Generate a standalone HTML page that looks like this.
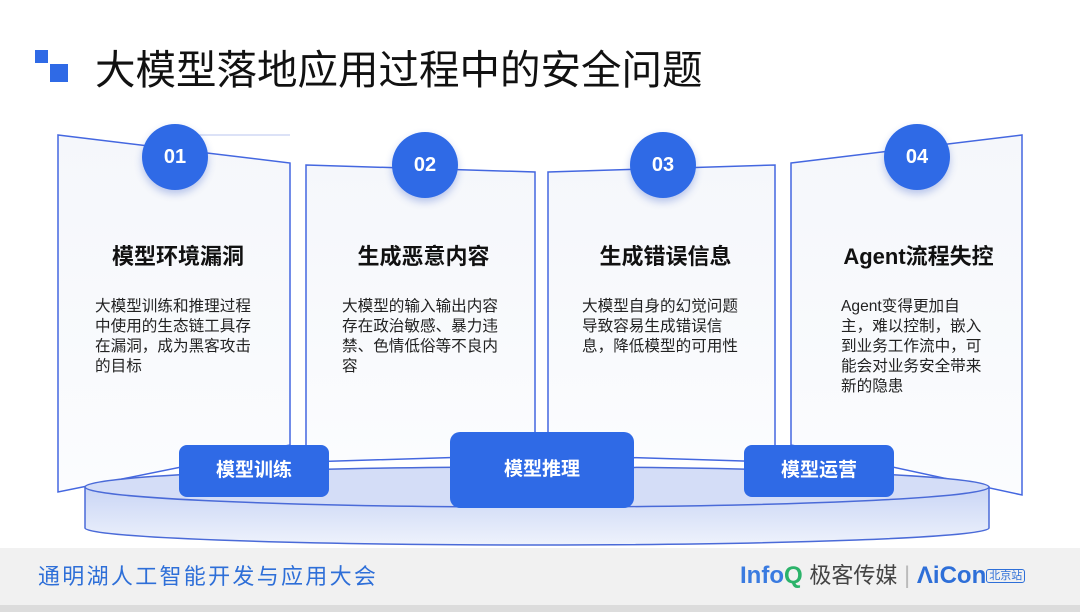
<!DOCTYPE html>
<html><head><meta charset="utf-8"><style>
body{margin:0;width:1080px;height:612px;overflow:hidden;background:#fff;font-family:"Liberation Sans","Noto Sans CJK SC",sans-serif;position:relative}
.a{position:absolute}
.t{position:absolute;font-weight:bold;font-size:22px;color:#111;text-align:center}
.d{position:absolute;font-size:15.6px;line-height:20px;color:#222}
.c{position:absolute;width:66px;height:66px;border-radius:50%;background:#2f6ae6;color:#fff;font-weight:bold;font-size:20px;text-align:center;line-height:66px;box-shadow:0 4px 8px rgba(40,80,200,.3)}
.b{position:absolute;background:#2f6ae6;color:#fff;font-weight:bold;font-size:19px;text-align:center;border-radius:8px}
</style></head><body>
<div class="a" style="left:35px;top:50px;width:13px;height:13px;background:#2f6ae6"></div>
<div class="a" style="left:50px;top:64px;width:18px;height:18px;background:#2f6ae6"></div>
<div class="a" style="left:95px;top:45px;font-size:40.5px;color:#111;line-height:50px;white-space:nowrap">大模型落地应用过程中的安全问题</div>
<svg class="a" style="left:0;top:0" width="1080" height="612">
<defs><linearGradient id="g" x1="0" y1="0" x2="0" y2="1"><stop offset="0" stop-color="#f5f7fb"/><stop offset="1" stop-color="#fbfcfe"/></linearGradient>
<linearGradient id="p" x1="0" y1="0" x2="0" y2="1"><stop offset="0" stop-color="#c9d5f5"/><stop offset="1" stop-color="#eef2fc"/></linearGradient></defs>
<line x1="175" y1="135" x2="290" y2="135" stroke="#b8c6ef" stroke-width="1"/>
<polygon points="58,135 290,163 290,445 58,492" fill="url(#g)" stroke="#4467e0" stroke-width="1.5"/>
<polygon points="306,165 535,172 535,455 306,462" fill="url(#g)" stroke="#4467e0" stroke-width="1.5"/>
<polygon points="548,172 775,165 775,462 548,455" fill="url(#g)" stroke="#4467e0" stroke-width="1.5"/>
<polygon points="791,163 1022,135 1022,495 791,445" fill="url(#g)" stroke="#4467e0" stroke-width="1.5"/>
<path d="M85,487 L85,528 A452,17 0 0 0 989,528 L989,487 Z" fill="url(#p)" stroke="#4a6ad8" stroke-width="1.5"/>
<ellipse cx="537" cy="487" rx="452" ry="20" fill="#d4ddf7" stroke="#4a6ad8" stroke-width="1.5"/>
</svg>
<div class="c" style="left:142px;top:124px">01</div>
<div class="c" style="left:392px;top:132px">02</div>
<div class="c" style="left:630px;top:132px">03</div>
<div class="c" style="left:884px;top:124px">04</div>
<div class="t" style="left:58px;width:240px;top:239px">模型环境漏洞</div>
<div class="t" style="left:306px;width:235px;top:239px">生成恶意内容</div>
<div class="t" style="left:548px;width:235px;top:239px">生成错误信息</div>
<div class="t" style="left:791px;width:255px;top:239px">Agent流程失控</div>
<div class="d" style="left:95px;top:297px;width:162px">大模型训练和推理过程中使用的生态链工具存在漏洞，成为黑客攻击的目标</div>
<div class="d" style="left:342px;top:297px;width:162px">大模型的输入输出内容存在政治敏感、暴力违禁、色情低俗等不良内容</div>
<div class="d" style="left:582px;top:297px;width:162px">大模型自身的幻觉问题导致容易生成错误信息，降低模型的可用性</div>
<div class="d" style="left:841px;top:297px;width:146px">Agent变得更加自主，难以控制，嵌入到业务工作流中，可能会对业务安全带来新的隐患</div>
<div class="b" style="left:179px;top:445px;width:150px;height:52px;line-height:52px">模型训练</div>
<div class="b" style="left:450px;top:432px;width:184px;height:76px;line-height:76px;border-radius:10px">模型推理</div>
<div class="b" style="left:744px;top:445px;width:150px;height:52px;line-height:52px">模型运营</div>
<div class="a" style="left:0;top:548px;width:1080px;height:57px;background:#f1f1f1"></div>
<div class="a" style="left:0;top:605px;width:1080px;height:7px;background:#dcdcdc"></div>
<div class="a" style="left:38px;top:562px;font-size:22px;letter-spacing:2.3px;color:#2e6fd8;line-height:30px;white-space:nowrap">通明湖人工智能开发与应用大会</div>
<div class="a" style="left:740px;top:561px;font-size:24px;line-height:30px;white-space:nowrap"><b style="color:#3a7be0">Info<span style="color:#2bb36a">Q</span></b> <span style="color:#444;font-size:22px">极客传媒</span> <span style="color:#bbb">|</span> <b style="color:#2e6fd8">ΛiCon</b><span style="font-size:11px;color:#2e6fd8;border:1px solid #2e6fd8;border-radius:3px;padding:0 2px;vertical-align:4px">北京站</span></div>
</body></html>
